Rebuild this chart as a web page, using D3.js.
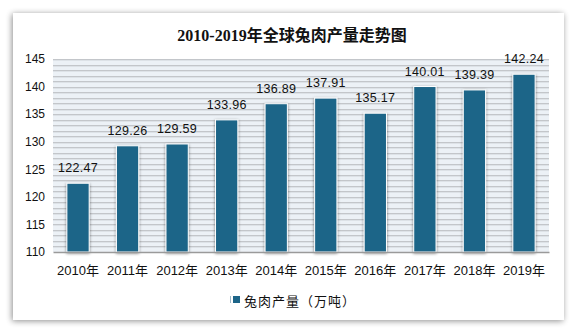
<!DOCTYPE html>
<html>
<head>
<meta charset="utf-8">
<script src="https://cdn.jsdelivr.net/npm/d3@7"></script>
<style>
  html, body { margin: 0; padding: 0; background: #ffffff; }
  svg { display: block; }
</style>
</head>
<body>
<svg id="chart" width="579" height="333"></svg>
<script>
// Global rabbit meat output, 2010–2019 (10k tonnes)
const years = ["2010年", "2011年", "2012年", "2013年", "2014年", "2015年", "2016年", "2017年", "2018年", "2019年"];
const output = [122.47, 129.26, 129.59, 133.96, 136.89, 137.91, 135.17, 140.01, 139.39, 142.24];
const yTicks = [110, 115, 120, 125, 130, 135, 140, 145];
const titleText = "2010-2019年全球兔肉产量走势图";
const legendText = "兔肉产量（万吨）";

const svg = d3.select("#chart");
const defs = svg.append("defs");

// soft card shadow
const cardShadow = defs.append("filter").attr("id", "cardShadow")
  .attr("x", "-10%").attr("y", "-10%").attr("width", "120%").attr("height", "120%");
cardShadow.append("feGaussianBlur").attr("in", "SourceAlpha").attr("stdDeviation", 3);
cardShadow.append("feOffset").attr("dx", -1).attr("dy", 1).attr("result", "b");
cardShadow.append("feComponentTransfer").append("feFuncA").attr("type", "linear").attr("slope", 0.45);
const cm = cardShadow.append("feMerge");
cm.append("feMergeNode");
cm.append("feMergeNode").attr("in", "SourceGraphic");

// bar shadow
const barShadow = defs.append("filter").attr("id", "barShadow")
  .attr("x", "-40%").attr("y", "-10%").attr("width", "180%").attr("height", "120%");
barShadow.append("feGaussianBlur").attr("in", "SourceAlpha").attr("stdDeviation", 1.6);
barShadow.append("feOffset").attr("dx", 0).attr("dy", 1).attr("result", "b");
barShadow.append("feComponentTransfer").append("feFuncA").attr("type", "linear").attr("slope", 0.5);
const bm = barShadow.append("feMerge");
bm.append("feMergeNode");
bm.append("feMergeNode").attr("in", "SourceGraphic");

// card
svg.append("rect")
  .attr("x", 13).attr("y", 13).attr("width", 551).attr("height", 307)
  .attr("fill", "#ffffff")
  .attr("filter", "url(#cardShadow)");

// title
svg.append("text")
  .attr("x", 292).attr("y", 41)
  .attr("text-anchor", "middle")
  .attr("font-family", "'Liberation Serif', 'Noto Sans CJK SC', serif")
  .attr("font-weight", "bold")
  .attr("font-size", 16)
  .attr("fill", "#111")
  .text(titleText);

const plot = { left: 53, right: 549, top: 59, bottom: 252 };

const x = d3.scaleBand()
  .domain(years)
  .range([plot.left, plot.right])
  .paddingInner(0.55)
  .paddingOuter(0.28);

const y = d3.scaleLinear()
  .domain([110, 145])
  .range([plot.bottom, plot.top]);

// striped plot background: one band per unit
svg.append("rect")
  .attr("x", plot.left).attr("y", plot.top)
  .attr("width", plot.right - plot.left).attr("height", plot.bottom - plot.top)
  .attr("fill", "#ecf1f6");

const unitLines = d3.range(111, 146);
svg.append("g").selectAll("line.g1")
  .data(unitLines)
  .join("line")
  .attr("x1", plot.left).attr("x2", plot.right)
  .attr("y1", d => Math.round(y(d)) + 0.5).attr("y2", d => Math.round(y(d)) + 0.5)
  .attr("stroke", "#c3c6ca").attr("stroke-width", 1);
svg.append("g").selectAll("line.g2")
  .data(unitLines)
  .join("line")
  .attr("x1", plot.left).attr("x2", plot.right)
  .attr("y1", d => Math.round(y(d)) + 1.5).attr("y2", d => Math.round(y(d)) + 1.5)
  .attr("stroke", "#dde2e7").attr("stroke-width", 1);

// y axis labels
const yAxis = d3.axisLeft(y).tickValues(yTicks).tickSize(0).tickPadding(8);
const gy = svg.append("g").attr("transform", `translate(${plot.left},0)`).call(yAxis);
gy.select(".domain").remove();
gy.selectAll("text")
  .attr("font-family", "'Liberation Sans', 'Noto Sans CJK SC', sans-serif")
  .attr("font-size", 12)
  .attr("fill", "#111");

// bars
svg.append("g").selectAll("rect")
  .data(output)
  .join("rect")
  .attr("x", (d, i) => x(years[i]))
  .attr("y", d => y(d))
  .attr("width", x.bandwidth())
  .attr("height", d => y(110) - y(d))
  .attr("fill", "#1d6588")
  .attr("stroke", "#ffffff")
  .attr("stroke-width", 1)
  .attr("filter", "url(#barShadow)");

// x axis
const xAxis = d3.axisBottom(x).tickSize(0).tickPadding(14);
const gx = svg.append("g").attr("transform", `translate(0,${plot.bottom})`).call(xAxis);
gx.select(".domain").attr("stroke", "#9a9a9a").attr("stroke-width", 1.5);
gx.selectAll("text")
  .attr("font-family", "'Liberation Sans', 'Noto Sans CJK SC', sans-serif")
  .attr("font-size", 13)
  .attr("fill", "#111");

// value labels
svg.append("g").selectAll("text")
  .data(output)
  .join("text")
  .attr("x", (d, i) => x(years[i]) + x.bandwidth() / 2)
  .attr("y", d => y(d) - 11)
  .attr("text-anchor", "middle")
  .attr("font-family", "'Liberation Sans', 'Noto Sans CJK SC', sans-serif")
  .attr("font-size", 12.5)
  .attr("letter-spacing", 0.3)
  .attr("fill", "#111")
  .text(d => d.toFixed(2));

// legend
const legend = svg.append("g").attr("transform", "translate(233,300)");
legend.append("rect")
  .attr("x", -3).attr("y", -4).attr("width", 1).attr("height", 7)
  .attr("fill", "#9fb8c8");
legend.append("rect")
  .attr("x", 0).attr("y", -4).attr("width", 7).attr("height", 7)
  .attr("fill", "#1d6588");
legend.append("text")
  .attr("x", 11).attr("y", 0)
  .attr("dominant-baseline", "central")
  .attr("font-family", "'Noto Sans CJK SC', sans-serif")
  .attr("font-size", 13)
  .attr("letter-spacing", 1)
  .attr("fill", "#111")
  .text(legendText);
</script>
</body>
</html>
